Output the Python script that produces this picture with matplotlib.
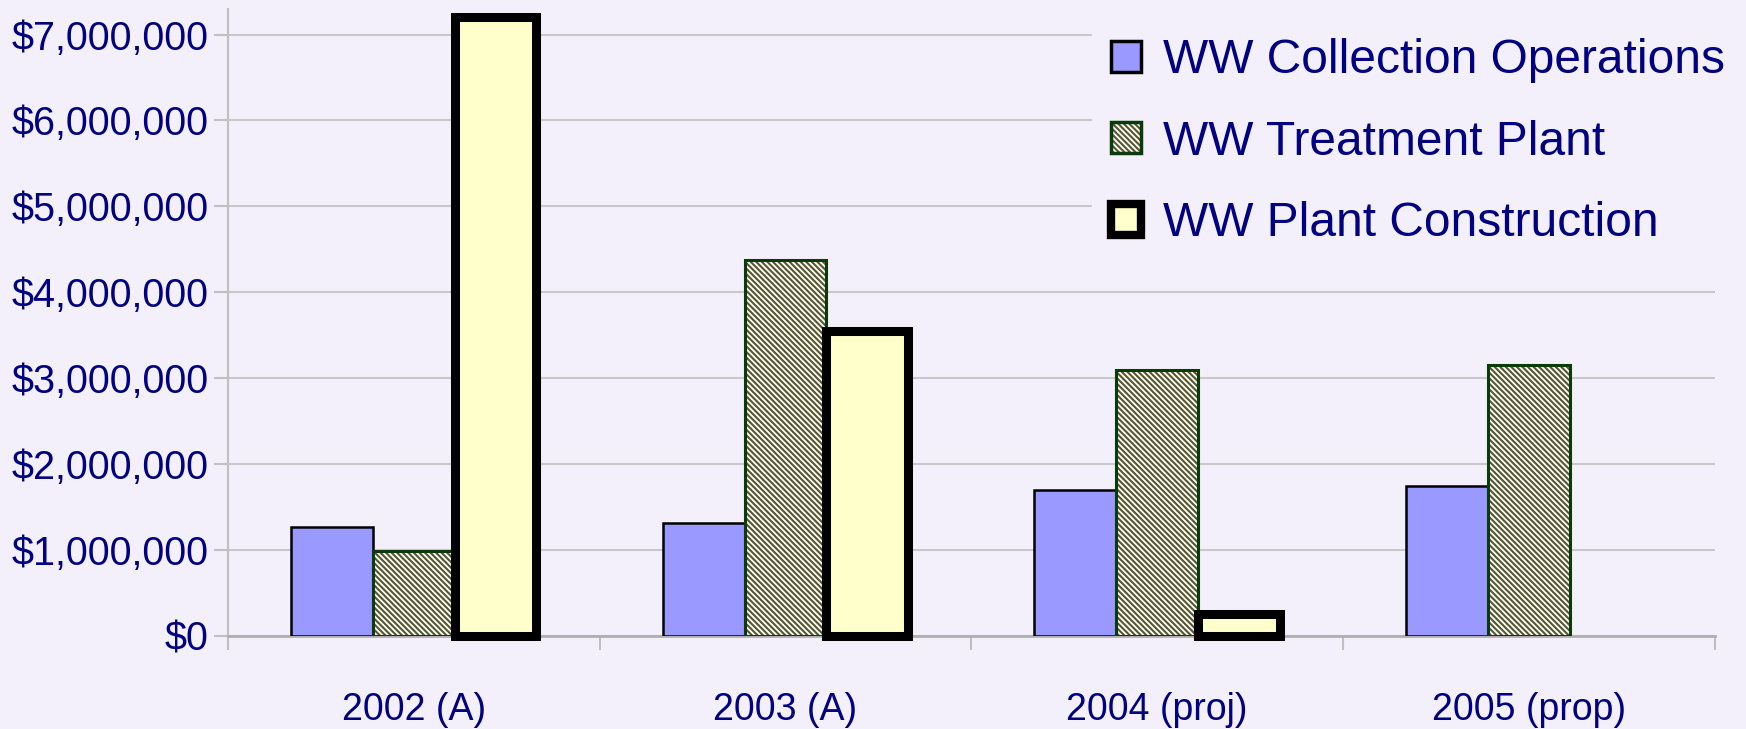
import numpy as np
import matplotlib.pyplot as plt
from matplotlib.patches import Patch
from matplotlib.ticker import FuncFormatter

# data
years = ["2002 (A)", "2003 (A)", "2004 (proj)", "2005 (prop)"]
collection = [1270000, 1310000, 1700000, 1740000]
treatment = [985000, 4370000, 3100000, 3150000]
construction = [7200000, 3550000, 250000, 0]

bg = "#F3F0FC"
navy = "#000080"
olive = "#56562C"
dkgreen = "#0B3A0B"
hatch = "\\" * 6

plt.rcParams['font.family'] = ['Liberation Sans', 'DejaVu Sans']
plt.rcParams['hatch.linewidth'] = 1.5

fig = plt.figure(figsize=(17.46, 7.29), dpi=100, facecolor=bg)
ax = fig.add_axes([0.1306, 0.1276, 0.8514, 0.8604])
ax.set_facecolor(bg)

x = np.arange(len(years))
w = 0.22

ax.bar(x - w, collection, w, color="#9999FF", edgecolor="black",
       linewidth=1.8, zorder=3)
# hatch layer and outline layer for the treatment bars
ax.bar(x, treatment, w, color="white", edgecolor=olive, hatch=hatch,
       linewidth=0, zorder=3)
ax.bar(x, treatment, w, color="none", edgecolor=dkgreen, linewidth=2.2, zorder=3)

# zero bars are not drawn in the original
cons = np.array(construction, dtype=float)
cons[cons == 0] = np.nan
bars = ax.bar(x + w, cons, w, color="#FFFFCC", edgecolor="black",
              linewidth=6.5, zorder=4)
for b in bars:
    b.set_clip_on(False)

ax.set_xlim(-0.5, 3.5)
ax.set_ylim(0, 7300000)
ax.set_yticks(np.arange(0, 7000001, 1000000))
ax.yaxis.set_major_formatter(FuncFormatter(lambda v, p: "${:,.0f}".format(v)))
ax.grid(axis="y", color="#C8C8C8", linewidth=1.5, zorder=0)

ax.set_xticks(np.arange(-0.5, 4.0, 1.0))
ax.set_xticklabels([])
ax.set_xticks(x, minor=True)
ax.set_xticklabels(years, minor=True)

ax.tick_params(axis="y", labelsize=28.5, labelcolor=navy, color="#C0C0C0",
               length=10, width=1.5, pad=4)
ax.tick_params(axis="x", which="major", color="#C0C0C0", length=10, width=1.5)
ax.tick_params(axis="x", which="minor", length=0, labelsize=27,
               labelcolor=navy, pad=40)

for s in ["top", "right"]:
    ax.spines[s].set_visible(False)
ax.spines["left"].set_color("#C0C0C0")
ax.spines["bottom"].set_color("#B0B0B0")
ax.spines["left"].set_linewidth(1.5)
ax.spines["bottom"].set_linewidth(2)

handles = [
    Patch(facecolor="#9999FF", edgecolor="black", linewidth=2.5),
    (Patch(facecolor="white", edgecolor=olive, hatch=hatch, linewidth=0),
     Patch(facecolor="none", edgecolor=dkgreen, linewidth=2.5)),
    Patch(facecolor="#FFFFCC", edgecolor="black", linewidth=6),
]
labels = ["WW Collection Operations", "WW Treatment Plant", "WW Plant Construction"]
leg = fig.legend(handles, labels, loc="upper left", bbox_to_anchor=(0.62, 0.987),
                 fontsize=34.5, handlelength=0.62, handleheight=0.62,
                 handletextpad=0.45, labelspacing=0.76, labelcolor=navy,
                 frameon=True, facecolor=bg, edgecolor=bg, framealpha=1,
                 borderaxespad=0.2)

fig.savefig("out.png", dpi=100, facecolor=bg)
